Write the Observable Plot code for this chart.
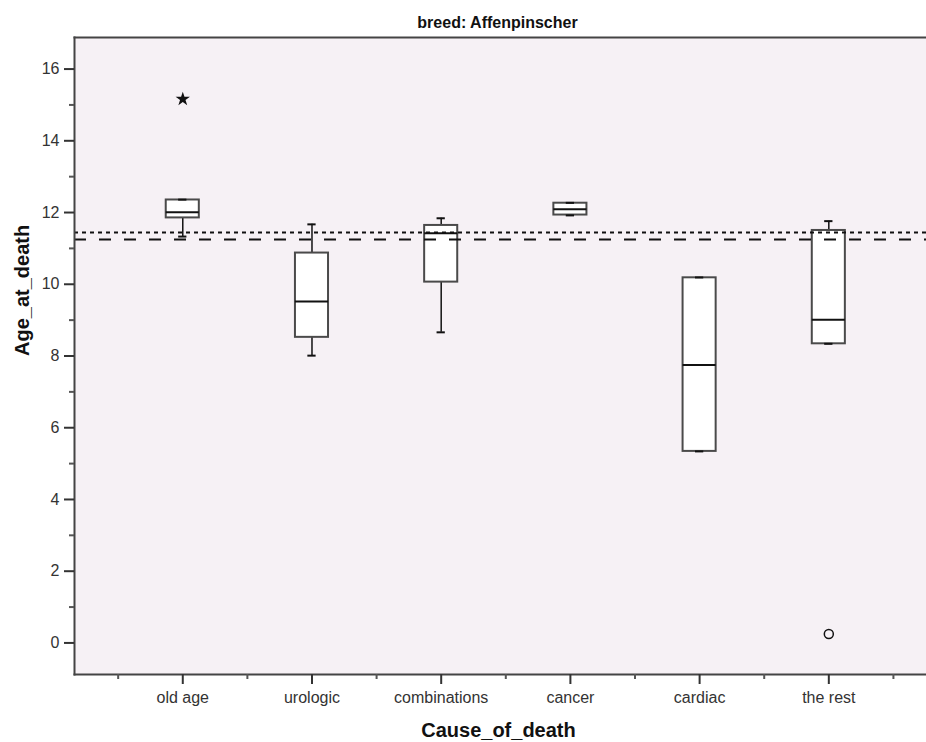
<!DOCTYPE html>
<html><head><meta charset="utf-8">
<script src="https://cdn.jsdelivr.net/npm/d3@7"></script>
<script src="https://cdn.jsdelivr.net/npm/@observablehq/plot@0.6"></script>
<style>body{margin:0;background:#fff;overflow:hidden}</style>
</head><body><div id="chart"></div>
<script>
const categories = ["old age", "urologic", "combinations", "cancer", "cardiac", "the rest"];
const whiskerLow  = [11.33, 8.01, 8.66, 11.92, 5.34, 8.34];
const q1          = [11.85, 8.52, 10.06, 11.93, 5.34, 8.34];
const median      = [12.01, 9.52, 11.42, 12.09, 7.75, 9.01];
const q3          = [12.35, 10.87, 11.64, 12.26, 10.18, 11.50];
const whiskerHigh = [12.36, 11.67, 11.84, 12.27, 10.19, 11.76];
const extremeCat = ["old age"];
const extremeVal = [15.16];
const outlierCat = ["the rest"];
const outlierVal = [0.25];
const refDotted = 11.44;
const refDashed = 11.25;
const yTicks = [0, 2, 4, 6, 8, 10, 12, 14, 16];
const yMinor = [1, 3, 5, 7, 9, 11, 13, 15];
const titleText = "breed: Affenpinscher";
const xLabel = "Cause_of_death";
const yLabel = "Age_at_death";

const rows = categories.map((c, i) => ({i, cat: c, lo: whiskerLow[i], q1: q1[i], med: median[i], q3: q3[i], hi: whiskerHigh[i]}));
const extremes = extremeCat.map((c, k) => ({i: categories.indexOf(c), v: extremeVal[k]}));
const outliers = outlierCat.map((c, k) => ({i: categories.indexOf(c), v: outlierVal[k]}));

const xDomain = [-0.838, 5.756];
const yDomain = [-0.88, 16.88];
const bw = 0.128;   // half box width (x units)
const cw = 0.032;   // half cap width
const ink = "#111";
const frameInk = "#444";

const chart = Plot.plot({
  width: 926, height: 742,
  marginLeft: 74, marginRight: 0, marginTop: 37, marginBottom: 68,
  style: {fontFamily: "'Liberation Sans', Arial, sans-serif", fontSize: "16px", background: "#fff", overflow: "hidden"},
  x: {type: "linear", domain: xDomain},
  y: {domain: yDomain},
  marks: [
    Plot.frame({fill: "#f6f1f5", stroke: "none"}),
    Plot.ruleX(rows, {x: "i", y1: "lo", y2: "q1", stroke: ink, strokeWidth: 1.5}),
    Plot.ruleX(rows, {x: "i", y1: "q3", y2: "hi", stroke: ink, strokeWidth: 1.5}),
    Plot.rect(rows, {x1: d => d.i - bw, x2: d => d.i + bw, y1: "q1", y2: "q3", fill: "#fff", stroke: "#4a4a4a", strokeWidth: 2}),
    Plot.ruleY(rows, {y: "med", x1: d => d.i - bw, x2: d => d.i + bw, stroke: ink, strokeWidth: 2}),
    Plot.ruleY(rows, {y: "lo", x1: d => d.i - cw, x2: d => d.i + cw, stroke: ink, strokeWidth: 2}),
    Plot.ruleY(rows, {y: "hi", x1: d => d.i - cw, x2: d => d.i + cw, stroke: ink, strokeWidth: 2}),
    Plot.ruleY([refDotted], {stroke: ink, strokeWidth: 2, strokeDasharray: "4,4"}),
    Plot.ruleY([refDashed], {stroke: ink, strokeWidth: 2, strokeDasharray: "12,13"}),
    Plot.dot(extremes, {x: "i", y: "v", symbol: "star", r: 4.5, fill: ink, stroke: "none"}),
    Plot.dot(outliers, {x: "i", y: "v", symbol: "circle", r: 4.5, fill: "none", stroke: ink, strokeWidth: 1.5}),
    Plot.frame({anchor: "top", stroke: frameInk, strokeWidth: 2}),
    Plot.frame({anchor: "bottom", stroke: frameInk, strokeWidth: 2}),
    Plot.frame({anchor: "left", stroke: frameInk, strokeWidth: 2}),
    Plot.axisY({ticks: yTicks, tickSize: 10, tickPadding: 5, label: null, color: "#333", strokeWidth: 2}),
    Plot.axisY({ticks: yMinor, tickSize: 5, tickFormat: () => "", label: null, color: "#555", strokeWidth: 2}),
    Plot.axisX({ticks: categories.map((_, i) => i), tickFormat: i => categories[i], tickSize: 10, tickPadding: 7, label: null, color: "#333", strokeWidth: 2}),
    Plot.axisX({ticks: categories.map((_, i) => i - 0.5).concat([categories.length - 0.5]), tickSize: 5, tickFormat: () => "", label: null, color: "#555", strokeWidth: 2}),
    Plot.text([titleText], {frameAnchor: "top", dy: -15, dx: -3, lineAnchor: "middle", fontWeight: "bold", fontSize: 16, fill: ink}),
    Plot.text([xLabel], {frameAnchor: "bottom", dy: 56, dx: -2, lineAnchor: "middle", fontWeight: "bold", fontSize: 20, fill: ink}),
    Plot.text([yLabel], {frameAnchor: "left", dx: -52, rotate: -90, fontWeight: "bold", fontSize: 20, fill: ink})
  ]
});
document.getElementById("chart").appendChild(chart);
</script>
</body></html>
